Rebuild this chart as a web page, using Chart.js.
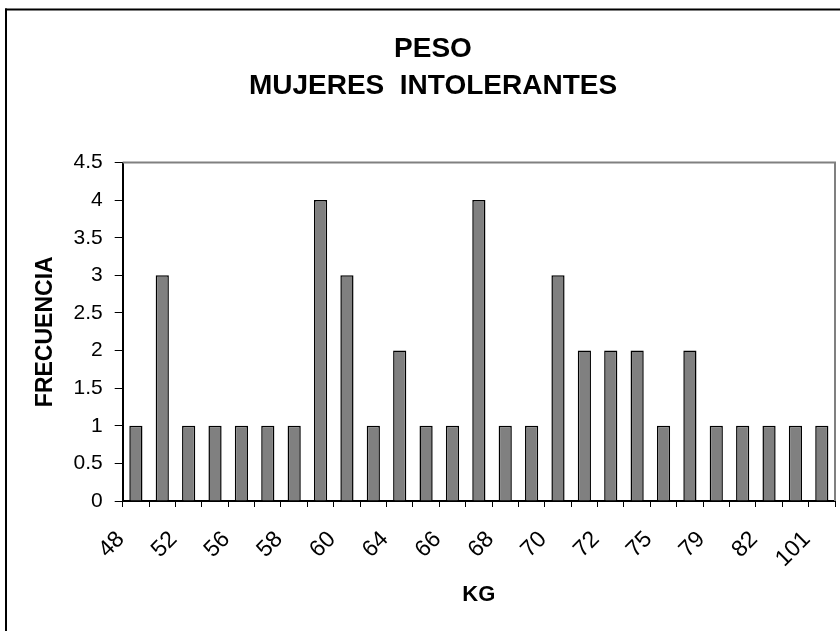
<!DOCTYPE html>
<html>
<head>
<meta charset="utf-8">
<title>Peso mujeres intolerantes</title>
<script src="https://cdn.jsdelivr.net/npm/chart.js@4.4.1/dist/chart.umd.min.js"></script>
<style>
    body { margin: 0; background: #fff; }
    #wrap { position: relative; width: 840px; height: 631px; }
</style>
</head>
<body>
<div id="wrap"><canvas id="chart"></canvas></div>
<script>
// Categories (kg) - only every other one is labelled on the axis
const pesos = ["48", "50", "52", "54", "56", "57", "58", "59", "60", "62", "64", "65", "66", "67",
               "68", "69", "70", "71", "72", "73", "75", "77", "79", "80", "82", "85", "101"];
// Frequency per category
const frecuencia = [1, 3, 1, 1, 1, 1, 1, 4, 3, 1, 2, 1, 1, 4, 1, 1, 3, 2, 2, 2, 1, 2, 1, 1, 1, 1, 1];
const yTicks = [0, 0.5, 1, 1.5, 2, 2.5, 3, 3.5, 4, 4.5];

const FONT = "'Liberation Sans', Arial, sans-serif";

// Outer frame and the grey plot border (top/right)
const framePlugin = {
    id: "frame",
    beforeDraw(chart) {
        const c = chart.ctx;
        c.save();
        c.fillStyle = "#fff";
        c.fillRect(0, 0, chart.width, chart.height);
        c.fillStyle = "#000";
        c.fillRect(5, 8.5, 2, chart.height);
        c.fillRect(5, 8.5, chart.width, 2);
        c.restore();
    },
    afterDraw(chart) {
        const a = chart.chartArea;
        const c = chart.ctx;
        c.save();
        c.strokeStyle = "#808080";
        c.lineWidth = 2;
        c.beginPath();
        c.moveTo(a.left, a.top);
        c.lineTo(a.right, a.top);
        c.lineTo(a.right, a.bottom);
        c.stroke();
        c.restore();
    }
};

const ctx = document.getElementById("chart").getContext("2d");
new Chart(ctx, {
    type: "bar",
    data: {
        labels: pesos,
        datasets: [{
            data: frecuencia,
            backgroundColor: "#808080",
            borderColor: "#000",
            borderWidth: 1.5,
            barPercentage: 0.5,
            categoryPercentage: 1
        }]
    },
    options: {
        responsive: true,
        maintainAspectRatio: false,
        animation: false,
        layout: { padding: { left: 31, right: 5, top: 9, bottom: 0 } },
        plugins: {
            legend: { display: false },
            tooltip: { enabled: false },
            title: {
                display: true,
                text: ["PESO", "MUJERES  INTOLERANTES"],
                color: "#000",
                font: { family: FONT, size: 28, weight: "bold", lineHeight: 37 / 28 },
                padding: { top: 21.5, bottom: 58 }
            }
        },
        scales: {
            x: {
                grid: { display: true, drawOnChartArea: false, drawTicks: true, tickLength: 6, color: "#000", lineWidth: 1, offset: true },
                border: { display: true, color: "#000", width: 2 },
                ticks: {
                    autoSkip: false,
                    minRotation: 45,
                    maxRotation: 45,
                    labelOffset: -15,
                    padding: 19,
                    color: "#000",
                    font: { family: FONT, size: 23 },
                    callback: function (value, index) {
                        return index % 2 === 0 ? pesos[index] : "";
                    }
                },
                title: {
                    display: true,
                    text: "KG",
                    color: "#000",
                    font: { family: FONT, size: 22, weight: "bold" },
                    padding: { top: 0, bottom: 23 }
                },
                afterFit(scale) {
                    scale.height = 130;
                    scale.paddingLeft = 0;
                    scale.paddingRight = 0;
                }
            },
            y: {
                min: 0,
                max: 4.5,
                afterBuildTicks(scale) {
                    scale.ticks = yTicks.map(v => ({ value: v }));
                },
                grid: { display: true, drawOnChartArea: false, drawTicks: true, tickLength: 8, color: "#000", lineWidth: 1 },
                border: { display: true, color: "#000", width: 2 },
                ticks: {
                    padding: 12,
                    color: "#000",
                    font: { family: FONT, size: 21 },
                    callback: v => String(v)
                },
                title: {
                    display: true,
                    text: "FRECUENCIA",
                    color: "#000",
                    font: { family: FONT, size: 23, weight: "bold" },
                    padding: { top: 1, bottom: 0 }
                },
                afterFit(scale) {
                    scale.width = 91.7;
                }
            }
        }
    },
    plugins: [framePlugin]
});
</script>
</body>
</html>
